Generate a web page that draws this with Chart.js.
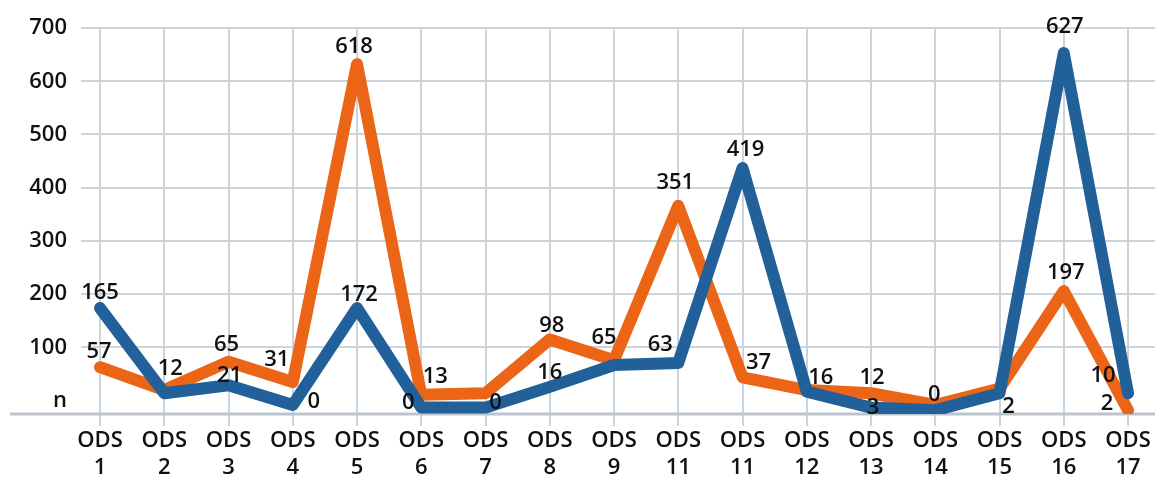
<!DOCTYPE html>
<html>
<head>
<meta charset="utf-8">
<script src="https://cdn.jsdelivr.net/npm/chart.js@4"></script>
<style>
  html, body { margin: 0; padding: 0; background: #fff; }
  canvas { display: block; }
</style>
</head>
<body>
<canvas id="odsChart" width="1155" height="477"></canvas>
<script>
const categories = ['ODS 1', 'ODS 2', 'ODS 3', 'ODS 4', 'ODS 5', 'ODS 6', 'ODS 7', 'ODS 8', 'ODS 9',
    'ODS 11', 'ODS 11', 'ODS 12', 'ODS 13', 'ODS 14', 'ODS 15', 'ODS 16', 'ODS 17'];

// plotted levels, read against the gridlines
const blueValues = [174, 14, 29, -8, 174, -13, -13, 26, 67, 71, 437, 17, -13, -18, 14, 653, 14];
const orangeValues = [63, 20, 73, 35, 632, 11, 14, 115, 76, 366, 44, 20, 14, -8, 23, 206, -18];

// numbers printed next to the points
const blueLabels = [165, 12, 21, 0, 172, 0, 0, 16, 65, 63, 419, 16, 3, null, 2, 627, 10];
const orangeLabels = [57, null, 65, 31, 618, 13, null, 98, null, 351, 37, null, 12, 0, null, 197, 2];

const yTicks = [0, 100, 200, 300, 400, 500, 600, 700];
const yTickLabels = ['n', '100', '200', '300', '400', '500', '600', '700'];

// where each printed number sits relative to its point (px)
const blueLabelOffsets = [[0, -15], [6, -25], [1, -10], [21, -3], [2, -13], [-13, -5], [10, -5], [0, -14],
    [-10, -27], [-18, -18], [3, -18], [14, -14], [2, 0], [0, 0], [9, 13], [1, -26], [-25, -18]];
const orangeLabelOffsets = [[-1, -15], [0, 0], [-2, -17], [-16, -22], [-3, -17], [14, -18], [0, 0], [2, -14],
    [0, 0], [-3, -23], [16, -15], [0, 0], [1, -16], [-1, -10], [0, 0], [2, -18], [-21, -7]];

const BLUE = '#22609A';
const ORANGE = '#EC6416';
const GRID = '#CCD4DC';
const FONT = '"Open Sans", "Noto Sans", sans-serif';

const valueLabels = {
    id: 'valueLabels',
    afterDatasetsDraw(chart) {
        const ctx = chart.ctx;
        ctx.save();
        ctx.font = '600 22px ' + FONT;
        ctx.fillStyle = '#111';
        ctx.textAlign = 'center';
        ctx.textBaseline = 'middle';
        [[0, blueLabels, blueLabelOffsets], [1, orangeLabels, orangeLabelOffsets]].forEach(([di, labels, offs]) => {
            chart.getDatasetMeta(di).data.forEach((pt, i) => {
                if (labels[i] === null) return;
                ctx.fillText(String(labels[i]), pt.x + offs[i][0], pt.y + offs[i][1]);
            });
        });
        ctx.restore();
    }
};

// bottom axis line runs past the plot on the left
const baseLine = {
    id: 'baseLine',
    beforeDatasetsDraw(chart) {
        const ctx = chart.ctx;
        const y = chart.chartArea.bottom;
        ctx.save();
        ctx.strokeStyle = '#BCC5CE';
        ctx.lineWidth = 3;
        ctx.beginPath();
        ctx.moveTo(10, y);
        ctx.lineTo(chart.width, y);
        ctx.stroke();
        ctx.restore();
    }
};

const ctx = document.getElementById('odsChart').getContext('2d');
new Chart(ctx, {
    type: 'line',
    data: {
        datasets: [
            {
                label: 'blue',
                data: blueValues.map((v, i) => ({ x: i, y: v })),
                borderColor: BLUE,
                borderWidth: 12,
                borderJoinStyle: 'round',
                borderCapStyle: 'round',
                pointRadius: 0,
                tension: 0
            },
            {
                label: 'orange',
                data: orangeValues.map((v, i) => ({ x: i, y: v })),
                borderColor: ORANGE,
                borderWidth: 12,
                borderJoinStyle: 'round',
                borderCapStyle: 'round',
                pointRadius: 0,
                tension: 0
            }
        ]
    },
    options: {
        responsive: false,
        animation: false,
        layout: { padding: { top: 28, left: 0, right: 0, bottom: 0 } },
        plugins: {
            legend: { display: false },
            tooltip: { enabled: false }
        },
        scales: {
            x: {
                type: 'linear',
                min: -0.296,
                max: 16.42,
                afterBuildTicks: (scale) => {
                    scale.ticks = categories.map((_, i) => ({ value: i }));
                },
                afterFit: (scale) => { scale.height = 63; },
                border: { display: false },
                grid: { color: GRID, lineWidth: 2, tickLength: 12, drawTicks: true },
                ticks: {
                    autoSkip: false,
                    maxRotation: 0,
                    padding: 2,
                    color: '#111',
                    font: { family: FONT, size: 22, weight: '600', lineHeight: 1.2 },
                    callback: (value) => categories[value] ? categories[value].split(' ') : ''
                }
            },
            y: {
                min: -25,
                max: 700,
                afterBuildTicks: (scale) => {
                    scale.ticks = yTicks.map(v => ({ value: v }));
                },
                afterFit: (scale) => { scale.width = 81; },
                border: { display: false },
                grid: {
                    color: (c) => c.tick && c.tick.value === 0 ? 'rgba(0,0,0,0)' : GRID,
                    lineWidth: 2,
                    drawTicks: false
                },
                ticks: {
                    padding: 14,
                    color: '#111',
                    font: { family: FONT, size: 22, weight: '600' },
                    callback: (value, index) => yTickLabels[index]
                }
            }
        }
    },
    plugins: [baseLine, valueLabels]
});
</script>
</body>
</html>
